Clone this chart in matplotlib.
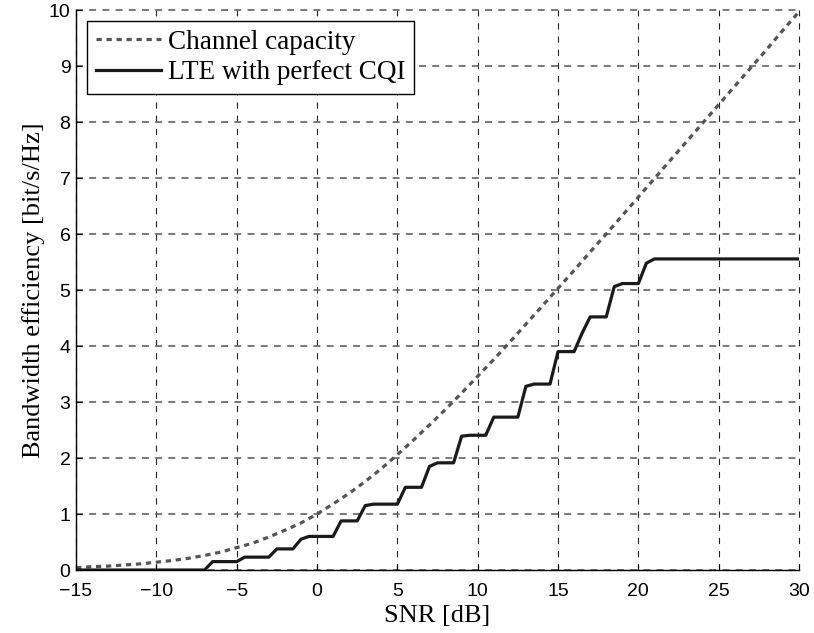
import matplotlib.pyplot as plt

# SNR axis [dB] and Shannon bound read at 1 dB steps
snr_db = list(range(-15, 31))
capacity = [0.04, 0.06, 0.07, 0.09, 0.11, 0.14, 0.17, 0.21, 0.26, 0.32,
            0.40, 0.48, 0.59, 0.71, 0.84, 1.00, 1.18, 1.37, 1.58, 1.81,
            2.06, 2.32, 2.59, 2.87, 3.16, 3.46, 3.76, 4.07, 4.39, 4.71,
            5.03, 5.35, 5.68, 6.00, 6.33, 6.66, 6.99, 7.32, 7.65, 7.98,
            8.31, 8.64, 8.97, 9.30, 9.64, 9.97]

# LTE throughput with perfect CQI feedback (breakpoints of the staircase)
lte_snr = [-15, -7, -6.5, -5, -4.5, -3, -2.5, -1.5, -1, -0.5, 1, 1.5, 2.5,
           3, 3.5, 5, 5.5, 6.5, 7, 7.5, 8.5, 9, 9.5, 10.5, 11, 12.5, 13,
           13.5, 14.5, 15, 16, 16.5, 17, 18, 18.5, 19, 20, 20.5, 21, 30]
lte_eff = [0, 0, 0.15, 0.15, 0.23, 0.23, 0.377, 0.377, 0.55, 0.60, 0.60,
           0.877, 0.877, 1.15, 1.176, 1.176, 1.477, 1.477, 1.85, 1.914,
           1.914, 2.39, 2.406, 2.406, 2.73, 2.73, 3.28, 3.32, 3.32, 3.90,
           3.90, 4.23, 4.52, 4.52, 5.06, 5.115, 5.115, 5.48, 5.555, 5.555]

x_ticks = [-15, -10, -5, 0, 5, 10, 15, 20, 25, 30]
y_ticks = list(range(0, 11))

plt.rcParams['lines.scale_dashes'] = False

fig = plt.figure(figsize=(8.14, 6.33), dpi=100)
ax = fig.add_axes([0.0934, 0.0995, 0.8882, 0.8847])

# grid: vertical lines dark, horizontal lines gray
for xv in x_ticks:
    ax.axvline(xv, color='#222222', lw=0.8, dashes=(4.5, 5), zorder=1, clip_on=False)
for yv in y_ticks:
    ax.axhline(yv, color='#6e6e6e', lw=1.3, dashes=(5, 4.5), zorder=1, clip_on=False)

ax.plot(snr_db, capacity, color='#555555', lw=2.3, dashes=(3.8, 3.4),
        label='Channel capacity', zorder=3)
ax.plot(lte_snr, lte_eff, color='#1a1a1a', lw=2.3,
        label='LTE with perfect CQI', zorder=4)

ax.set_xlim(-15, 30)
ax.set_ylim(0, 10)
ax.set_xticks(x_ticks)
ax.set_yticks(y_ticks)
ax.set_xticklabels(['\u221215', '\u221210', '\u22125', '0', '5', '10', '15', '20', '25', '30'])

for side in ['top', 'right']:
    ax.spines[side].set_visible(False)
for side in ['left', 'bottom']:
    ax.spines[side].set_linewidth(1.0)
    ax.spines[side].set_zorder(5)

ax.tick_params(direction='in', length=4, width=0.8, labelsize=14)
ax.tick_params(axis='x', pad=9)
ax.tick_params(axis='y', pad=4)
for lbl in ax.get_xticklabels() + ax.get_yticklabels():
    lbl.set_family('Liberation Sans')

ax.set_xlabel('SNR [dB]', family='Liberation Serif', fontsize=19, labelpad=4)
ax.set_ylabel('Bandwidth efficiency [bit/s/Hz]', family='Liberation Serif',
              fontsize=19, labelpad=3)

leg = ax.legend(loc='upper left', bbox_to_anchor=(0.015, 0.98),
                prop={'family': 'Liberation Serif', 'size': 19.5},
                fancybox=False, framealpha=1, edgecolor='black',
                handlelength=2.4, handletextpad=0.27, borderpad=0.32,
                labelspacing=0.2, borderaxespad=0)
leg.get_frame().set_linewidth(1.0)
leg.set_zorder(6)

fig.savefig('out.png', dpi=100)
